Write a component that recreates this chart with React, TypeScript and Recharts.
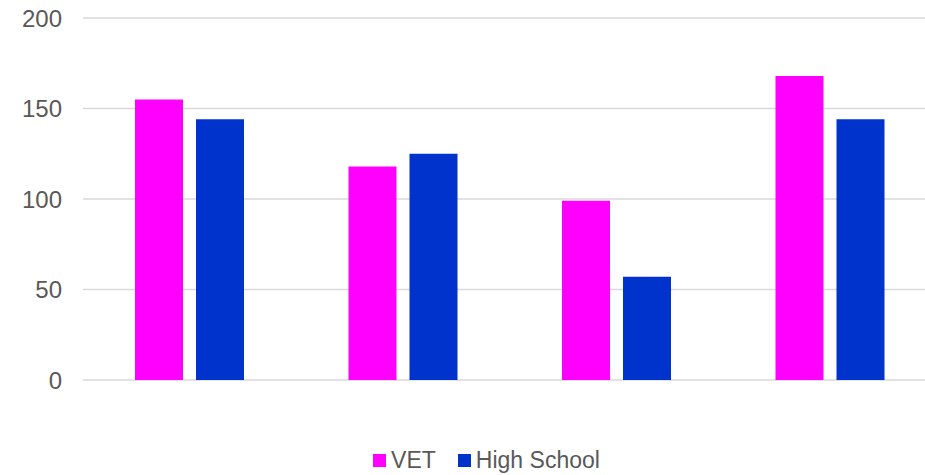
import { Bar, BarChart, CartesianGrid, XAxis, YAxis } from 'recharts';

const categories = ['Group 1', 'Group 2', 'Group 3', 'Group 4'];
const vetValues = [155, 118, 99, 168];
const highSchoolValues = [144, 125, 57, 144];
const yTicks = [0, 50, 100, 150, 200];

const SERIES = [
  { key: 'vet', name: 'VET', color: '#FF00FF' },
  { key: 'highSchool', name: 'High School', color: '#0033CC' },
];

const rows = categories.map((category, i) => ({
  category,
  vet: vetValues[i],
  highSchool: highSchoolValues[i],
}));

const FONT = '"Liberation Sans", Arial, sans-serif';

export default function App() {
  return (
    <div
      style={{
        position: 'absolute',
        top: 0,
        left: 0,
        width: 925,
        height: 475,
        overflow: 'hidden',
        background: '#fff',
        fontFamily: FONT,
      }}
    >
      <BarChart
        width={937}
        height={475}
        data={rows}
        margin={{ top: 18, right: 0, left: 0, bottom: 95 }}
        barSize={48}
        barGap={13}
      >
        <CartesianGrid vertical={false} stroke="#D9D9D9" strokeWidth={1.3} />
        <XAxis dataKey="category" hide />
        <YAxis
          domain={[0, 200]}
          ticks={yTicks}
          width={83}
          axisLine={false}
          tickLine={false}
          tickMargin={15}
          tick={{ fill: '#595959', fontSize: 24, fontFamily: FONT }}
        />
        {SERIES.map((s) => (
          <Bar key={s.key} dataKey={s.key} name={s.name} fill={s.color} isAnimationActive={false} />
        ))}
      </BarChart>
      {/* legend drawn as plain html so it doesn't eat into the plot height */}
      <div
        style={{
          position: 'absolute',
          top: 446,
          left: 0,
          width: 925,
          height: 28,
          display: 'flex',
          justifyContent: 'center',
          alignItems: 'center',
          gap: 22,
          color: '#595959',
          fontSize: 23,
          paddingLeft: 48,
          boxSizing: 'border-box',
        }}
      >
        {SERIES.map((s) => (
          <div key={s.key} style={{ display: 'flex', alignItems: 'center' }}>
            <span style={{ width: 13, height: 13, background: s.color, marginRight: 5 }} />
            <span>{s.name}</span>
          </div>
        ))}
      </div>
    </div>
  );
}
